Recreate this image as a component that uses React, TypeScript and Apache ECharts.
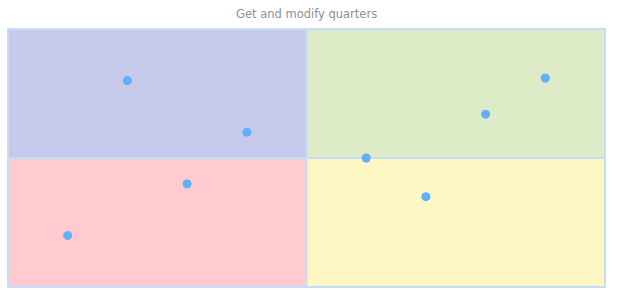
import React, { useEffect, useRef } from "react";
import * as echarts from "echarts";

const titleText = "Get and modify quarters";
const xValues = [1, 2, 3, 4, 6, 7, 8, 9];
const yValues = [2, 8, 4, 6, 5, 3.5, 6.7, 8.1];
const axisMin = 0;
const axisMax = 10;
const midValue = 5;
const quadrantNames = ["top-left", "top-right", "bottom-left", "bottom-right"];
const quadrantColors = ["#c6c9e9", "#ddebc7", "#ffcbd1", "#fdf8c3"];

export default function App() {
  const ref = useRef<HTMLDivElement>(null);
  useEffect(() => {
    if (!ref.current) return;
    const chart = echarts.init(ref.current, undefined, { renderer: "svg" });
    const points = xValues.map((x, i) => [x, yValues[i]]);
    const bounds: Record<string, [number, number, number, number]> = {
      "top-left": [axisMin, midValue, midValue, axisMax],
      "top-right": [midValue, midValue, axisMax, axisMax],
      "bottom-left": [axisMin, axisMin, midValue, midValue],
      "bottom-right": [midValue, axisMin, axisMax, midValue],
    };
    const areas = quadrantNames.map((n, i) => {
      const b = bounds[n];
      return [
        {
          xAxis: b[0],
          yAxis: b[1],
          itemStyle: {
            color: quadrantColors[i],
            borderColor: "#c4defa",
            borderWidth: 2,
          },
        },
        { xAxis: b[2], yAxis: b[3] },
      ];
    });
    const hidden = {
      axisLine: { show: false },
      axisTick: { show: false },
      axisLabel: { show: false },
      splitLine: { show: false },
    };
    chart.setOption({
      animation: false,
      title: {
        text: titleText,
        left: 231,
        top: 3,
        textStyle: {
          fontFamily: "DejaVu Sans",
          fontSize: 11.5,
          fontWeight: "normal",
          color: "#8c9099",
        },
      },
      grid: {
        left: 8,
        right: 15,
        top: 29,
        bottom: 13,
        show: false,
      },
      xAxis: { type: "value", min: axisMin, max: axisMax, ...hidden },
      yAxis: { type: "value", min: axisMin, max: axisMax, ...hidden },
      series: [
        {
          type: "scatter",
          data: points,
          symbolSize: 9,
          itemStyle: { color: "#5fb0f8", opacity: 1 },
          z: 5,
          markArea: {
            silent: true,
            data: areas,
          },
        },
      ],
    });
    return () => chart.dispose();
  }, []);
  return (
    <div
      ref={ref}
      style={{ position: "absolute", left: 0, top: 0, width: 620, height: 300 }}
    />
  );
}
